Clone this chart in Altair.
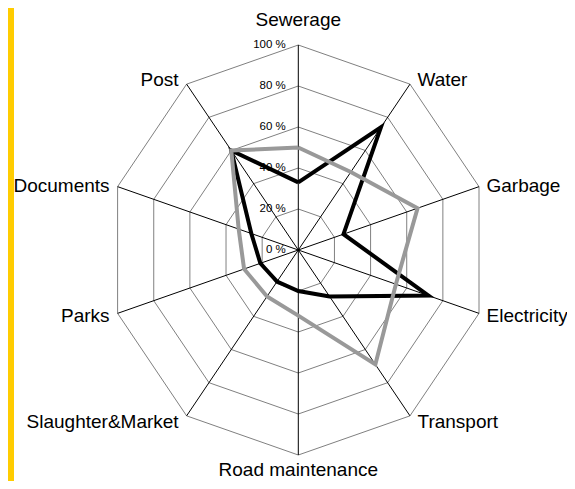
import math
import altair as alt
import pandas as pd

# ---- data ----
categories = ["Sewerage", "Water", "Garbage", "Electricity", "Transport",
              "Road maintenance", "Slaughter&Market", "Parks", "Documents", "Post"]
series_black = [33, 74, 25, 72, 28, 20, 19, 21, 26, 60]
series_gray = [50, 47, 66, 54, 69, 32, 28, 30, 33, 60]
tick_levels = [0, 20, 40, 60, 80, 100]
tick_labels = ["0 %", "20 %", "40 %", "60 %", "80 %", "100 %"]

# ---- layout ----
W, H = 559, 473
PX_X, PX_Y = 190.0, 205.0          # pixels per unit radius (x, y)
CX, CY = 290.3, 242.0              # centre within plot area
XDOM = [-CX / PX_X, (W - CX) / PX_X]
YDOM = [-(H - CY) / PX_Y, CY / PX_Y]

n = len(categories)
angles = [2 * math.pi * i / n for i in range(n)]

xs = alt.Scale(domain=XDOM, nice=False, zero=False)
ys = alt.Scale(domain=YDOM, nice=False, zero=False)

# rings
ring_rows = []
for lvl in tick_levels[1:]:
    for k in range(n + 1):
        a = angles[k % n]
        ring_rows.append({"lvl": lvl, "k": k, "x": lvl / 100 * math.sin(a), "y": lvl / 100 * math.cos(a)})
rings = alt.Chart(pd.DataFrame(ring_rows)).mark_line(stroke="#808080", strokeWidth=1).encode(
    x=alt.X("x:Q", scale=xs, axis=None),
    y=alt.Y("y:Q", scale=ys, axis=None),
    detail="lvl:N",
    order="k:Q",
)

# spokes
spoke_df = pd.DataFrame({
    "x0": [0.0] * n, "y0": [0.0] * n,
    "x1": [math.sin(a) for a in angles], "y1": [math.cos(a) for a in angles],
})
spokes = alt.Chart(spoke_df).mark_rule(stroke="black", strokeWidth=1).encode(
    x=alt.X("x0:Q", scale=xs, axis=None), y=alt.Y("y0:Q", scale=ys, axis=None),
    x2="x1:Q", y2="y1:Q",
)


def series_chart(vals, color):
    rows = []
    for k in range(n + 1):
        a = angles[k % n]
        r = vals[k % n] / 100
        rows.append({"k": k, "x": r * math.sin(a), "y": r * math.cos(a)})
    return alt.Chart(pd.DataFrame(rows)).mark_line(
        stroke=color, strokeWidth=4, strokeJoin="miter"
    ).encode(
        x=alt.X("x:Q", scale=xs, axis=None),
        y=alt.Y("y:Q", scale=ys, axis=None),
        order="k:Q",
    )


black_line = series_chart(series_black, "black")
gray_line = series_chart(series_gray, "#999999")

# tick labels
tick_df = pd.DataFrame({"x": [0.0] * len(tick_levels),
                        "y": [v / 100 for v in tick_levels],
                        "t": tick_labels})
ticks = alt.Chart(tick_df).mark_text(
    align="right", baseline="middle", dx=-12.5, font="Liberation Sans", fontSize=11.5, color="black"
).encode(
    x=alt.X("x:Q", scale=xs, axis=None), y=alt.Y("y:Q", scale=ys, axis=None), text="t:N"
)

# category labels
lab_rows = []
for c, a in zip(categories, angles):
    s, co = math.sin(a), math.cos(a)
    if abs(s) < 1e-6:
        al = "center"
        dxp = 0.0
        dyp = -19.0 if co > 0 else 21.0
    else:
        al = "left" if s > 0 else "right"
        dxp = 7.5 if s > 0 else -8.0
        dyp = 6.8 - 6.0 * co
    lab_rows.append({"c": c, "al": al, "x": s + dxp / PX_X, "y": co - dyp / PX_Y})
lab_df = pd.DataFrame(lab_rows)

label_layers = []
for al in ["left", "center", "right"]:
    label_layers.append(
        alt.Chart(lab_df).transform_filter(alt.datum.al == al).mark_text(
            align=al, baseline="alphabetic", font="Liberation Sans", fontSize=19, color="black"
        ).encode(
            x=alt.X("x:Q", scale=xs, axis=None), y=alt.Y("y:Q", scale=ys, axis=None), text="c:N"
        )
    )

# yellow side bar
bar = alt.Chart(pd.DataFrame({"a": [0]})).mark_rect(color="#FFCC00").encode(
    x=alt.value(0), x2=alt.value(6), y=alt.value(0), y2=alt.value(H)
)

chart = alt.layer(bar, rings, spokes, black_line, gray_line, ticks, *label_layers).properties(
    width=W, height=H, padding=0, autosize=alt.AutoSizeParams(type="none"), background="white"
).configure_view(stroke=None)

chart.save("out.html", embed_options={"renderer": "svg", "actions": False})
